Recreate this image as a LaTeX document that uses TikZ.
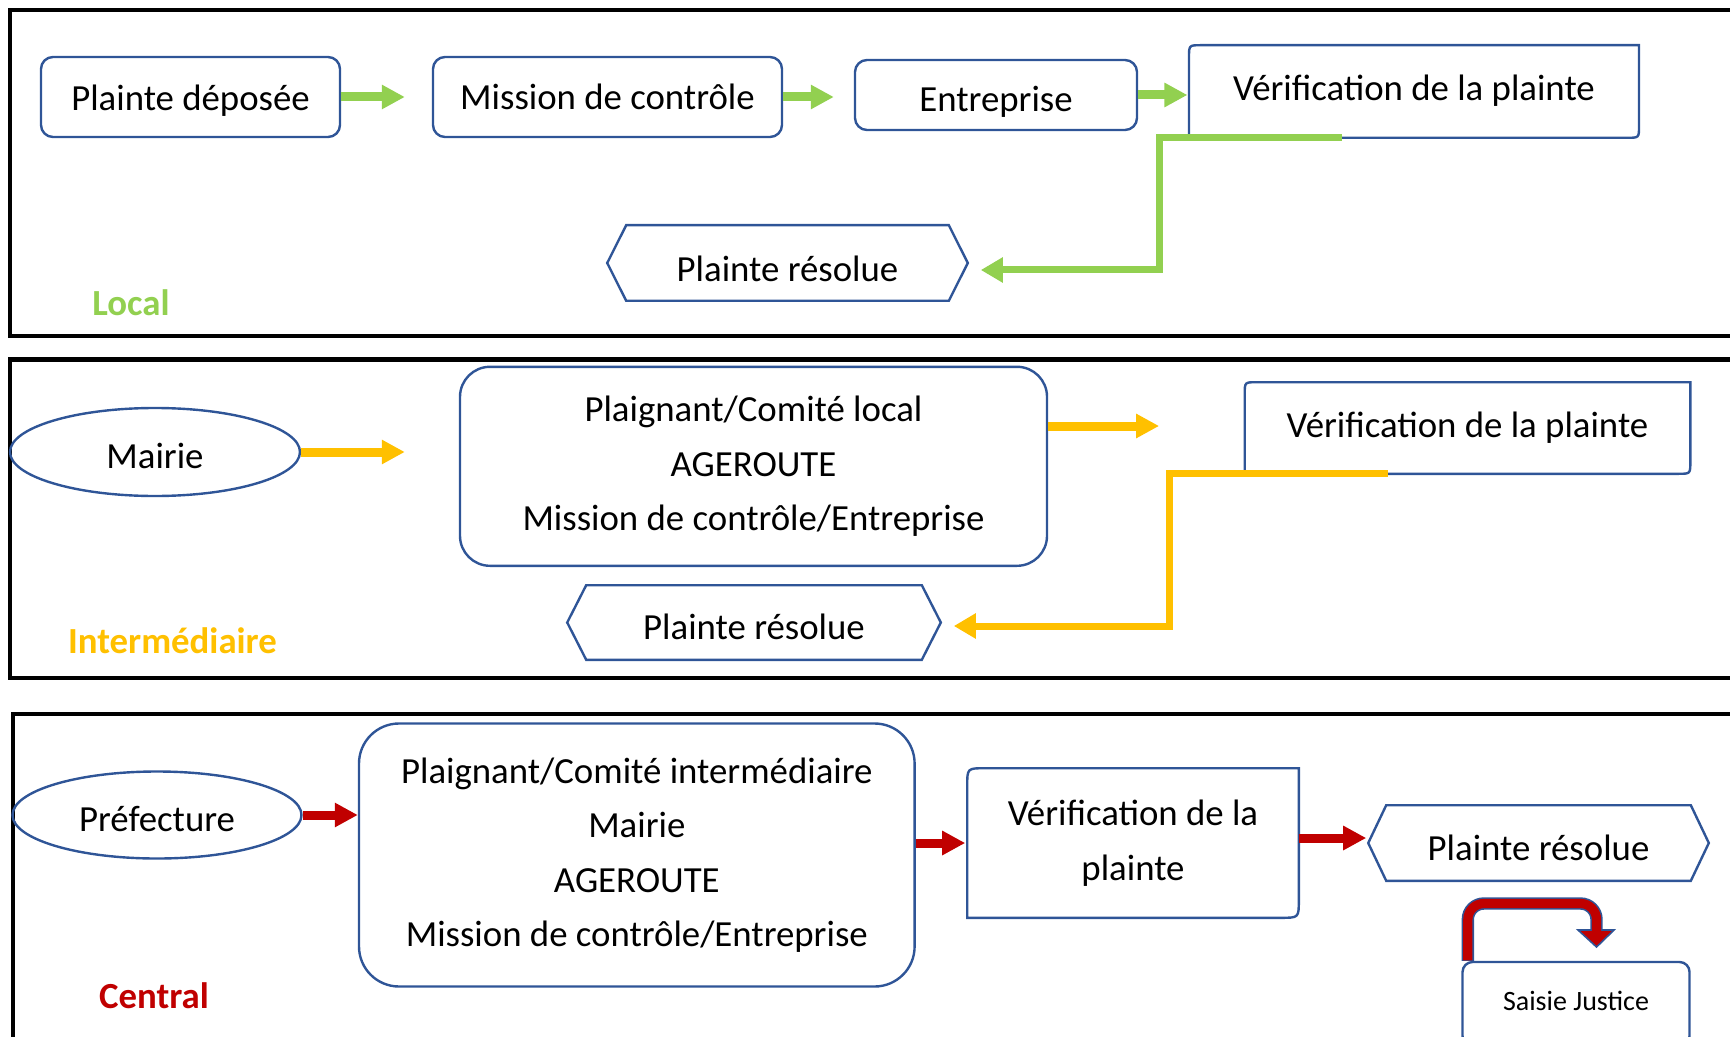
\documentclass[tikz,border=0pt]{standalone}
\usepackage{fontspec}
\setmainfont{Carlito}
\usetikzlibrary{arrows.meta,calc,shapes.geometric}
\definecolor{bl}{HTML}{2F5597}
\definecolor{grn}{HTML}{92D050}
\definecolor{ylw}{HTML}{FFC000}
\definecolor{rd}{HTML}{C00000}
\newcommand\mainsz{\fontsize{9.2}{13.6}\selectfont}
\newcommand\smallsz{\fontsize{7}{8.4}\selectfont}
\newcommand\lw[2]{\raisebox{-#1}[\height][\depth]{#2}}
\newcommand\dgbox[2]{\draw[bline] ($(#1.north west)+(0,#2)$) .. controls (#1.north west) .. ($(#1.north west)+(#2,0)$) -- (#1.north east) -- ($(#1.south east)+(0,-#2)$) .. controls (#1.south east) .. ($(#1.south east)+(-#2,0)$) -- (#1.south west) -- cycle;}
\newcommand\hxbox[2]{\draw[bline] (#1.north west) -- (#1.north east) -- ($(#1.east)+(#2,0)$) -- (#1.south east) -- (#1.south west) -- ($(#1.west)+(-#2,0)$) -- cycle;}
\tikzset{
  bline/.style={draw=bl, line width=0.6pt},
  box/.style={bline, rectangle, inner sep=0pt, align=center, font=\mainsz},
  rbox/.style={box, rounded corners=#1},
  plain/.style={rectangle, inner sep=0pt, align=center, font=\mainsz},
  oval/.style={ellipse, bline, inner sep=0pt, font=\mainsz},
  lab/.style={inner sep=0pt, font=\mainsz\bfseries},
  frame/.style={draw=black, line width=1pt},
  garrow/.style={draw=grn, line width=2.25pt, -{Triangle[width=5.75pt,length=5.75pt]}},
  yarrow/.style={draw=ylw, line width=2.25pt, -{Triangle[width=5.75pt,length=5.75pt]}},
  rarrow/.style={draw=rd, line width=2.25pt, -{Triangle[width=5.75pt,length=5.75pt]}},
  gline/.style={draw=grn, line width=1.75pt, -{Triangle[width=6pt,length=5.5pt]}},
  yline/.style={draw=ylw, line width=1.75pt, -{Triangle[width=6pt,length=5.5pt]}},
}
\begin{document}
\begin{tikzpicture}[x=0.25pt,y=-0.25pt]
\useasboundingbox (0,0) rectangle (1730,1036);
\clip (0,0) rectangle (1730,1036);

% frames
\draw[frame] (10,10) rectangle (1790,336);
\draw[frame] (10,359.5) rectangle (1790,678);
\draw[frame] (12.6,714) rectangle (1790,1090);

% ---------- panel 1 : Local
\node[rbox=3pt, minimum width=74.75pt, minimum height=20pt] (p1) at (190.5,97) {\lw{0.8pt}{Plainte déposée}};
\node[rbox=3pt, minimum width=87.25pt, minimum height=20pt] (m1) at (607.5,97) {Mission de contrôle};
\node[rbox=3pt, minimum width=70.5pt, minimum height=17.5pt] (e1) at (996,95) {\lw{1.6pt}{Entreprise}};
\node[plain, minimum width=112.1pt, minimum height=22.75pt] (v1) at (1414,91.5) {\lw{-0.2pt}{Vérification de la plainte}};
\dgbox{v1}{12}
\node[plain, minimum width=80.25pt, minimum height=18.5pt] (r1) at (787.5,263) {\lw{1.5pt}{Plainte résolue}};
\hxbox{r1}{19}
\node[lab, text=grn] (l1) at (131,303) {Local};

\draw[garrow, shorten >=6.75pt] (p1.east) -- (m1.west);
\draw[garrow, shorten >=5pt] (m1.east) -- (m1.east -| e1.west);
\draw[garrow, shorten >=0.4pt] (e1.east) -- (e1.east -| v1.west);
\draw[gline] ($(v1.south west)+(152.5,0)$) -- ++(-182,0) |- ($(r1.east)+(32,7)$);

% ---------- panel 2 : Intermediaire
\node[oval, minimum width=72.5pt, minimum height=22pt] (mairie) at (155,452) {\lw{1.1pt}{Mairie}};
\node[rbox=7.5pt, minimum width=146.75pt, minimum height=49.75pt] (big2) at (753.5,466.3) {Plaignant/Comité local\\AGEROUTE\\Mission de contrôle/Entreprise};
\node[plain, minimum width=111pt, minimum height=22.5pt] (v2) at (1467.5,428) {Vérification de la plainte};
\dgbox{v2}{12}
\node[plain, minimum width=83.5pt, minimum height=18.25pt] (r2) at (754,622.5) {\lw{1.1pt}{Plainte résolue}};
\hxbox{r2}{19}
\node[lab, text=ylw] (l2) at (172.5,641) {Intermédiaire};

\draw[yarrow, shorten >=13.5pt] (mairie.east) -- (mairie.east -| big2.west);
\draw[yarrow, shorten >=21.4pt] ($(big2.east |- v2.west)+(0,-2)$) -- ($(v2.west)+(0,-2)$);
\draw[yline] ($(v2.south west)+(143,0)$) -- ++(-218,0) |- ($(r2.east)+(32,3.5)$);

% ---------- panel 3 : Central
\node[oval, minimum width=72.25pt, minimum height=21.75pt] (pref) at (157,815) {\lw{1.1pt}{Préfecture}};
\node[rbox=10pt, minimum width=138.9pt, minimum height=65.75pt] (big3) at (636.8,855) {Plaignant/Comité intermédiaire\\Mairie\\AGEROUTE\\Mission de contrôle/Entreprise};
\node[plain, minimum width=82.5pt, minimum height=37pt] (v3) at (1133,843) {Vérification de la\\plainte};
\dgbox{v3}{18}
\node[plain, minimum width=75.75pt, minimum height=18.5pt] (r3) at (1538.5,843) {\lw{1.1pt}{Plainte résolue}};
\hxbox{r3}{18}
\node[rbox=2.5pt, minimum width=56.75pt, minimum height=21pt, font=\smallsz] (saisie) at (1576,1004) {\lw{-0.8pt}{Saisie Justice}};
\node[lab, text=rd] (l3) at (154,996) {Central};

\draw[rarrow] (pref.east) -- (pref.east -| big3.west);
\draw[rarrow, shorten >=0.5pt] (big3.east |- v3.west) -- (v3.west);
\coordinate (a3) at ($(v3.east)+(0,-5)$);
\draw[rarrow, shorten >=5pt] (a3) -- (a3 -| r3.west);

% U-turn arrow to Saisie Justice
\coordinate (u0) at ($(saisie.north west)+(6.5,0)$);
\coordinate (u3) at (1596.5,931);
\draw[draw=bl, line width=3.1pt, rounded corners=4pt] (u0) |- ($(u3)+(0,-27.5)$) -- (u3);
\draw[fill=rd, draw=bl, line width=0.4pt, line join=miter] ($(u3)+(-18.5,-1)$) -- ($(u3)+(17.5,-1)$) -- ($(u3)+(0,16)$) -- cycle;
\draw[draw=rd, line width=2.3pt, rounded corners=4pt] ($(u0)+(0,-0.5)$) |- ($(u3)+(0,-27.5)$) -- ($(u3)+(0,2)$);
\end{tikzpicture}
\end{document}
